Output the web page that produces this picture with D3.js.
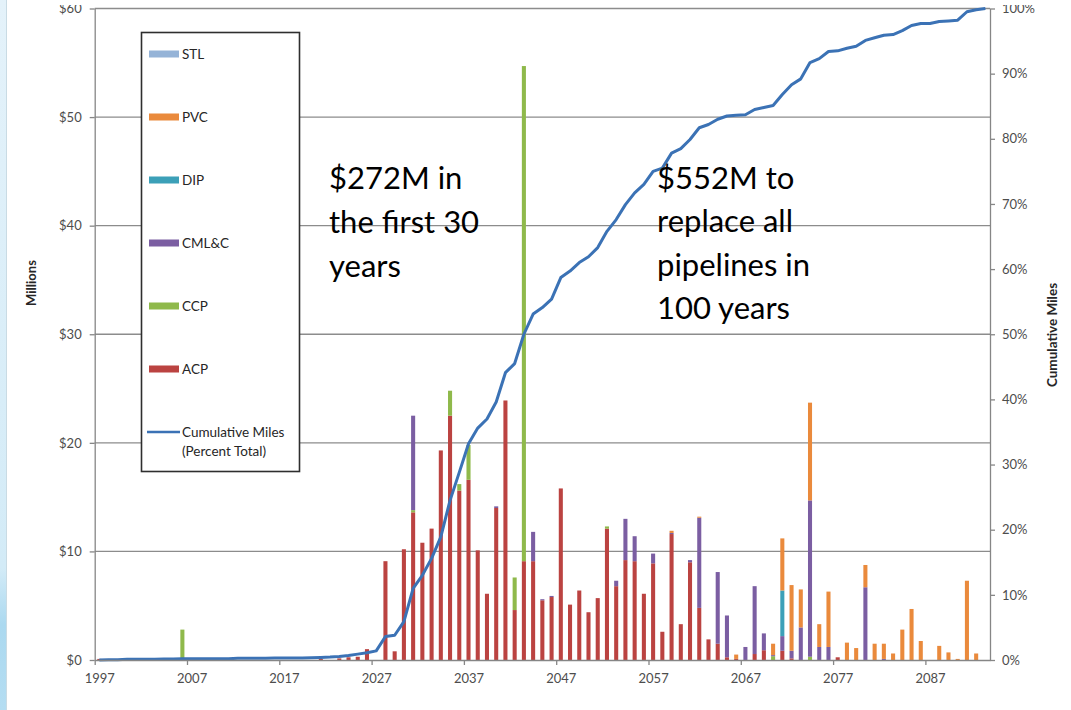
<!DOCTYPE html>
<html>
<head>
<meta charset="utf-8">
<script src="https://cdn.jsdelivr.net/npm/d3@7"></script>
<style>
  body { margin: 0; background: #fff; }
  text { font-family: Lato, "Open Sans", sans-serif; }
</style>
</head>
<body>
<svg id="chart"></svg>
<script>
// categories: one per year, 1997 .. 2093
let years = d3.range(1997, 2094);

// $ millions per year, one row per decade
let acp = [
  0.1, 0, 0, 0, 0, 0, 0, 0, 0, 0,
  0, 0, 0, 0, 0, 0, 0, 0, 0, 0,
  0, 0, 0, 0, 0.1, 0, 0.15, 0.25, 0.3, 1.0,
  0, 9.1, 0.8, 10.2, 13.6, 10.8, 12.1, 19.3, 22.5, 15.6,
  16.6, 10.1, 6.1, 14.0, 23.9, 4.6, 9.1, 9.1, 5.5, 5.8,
  15.8, 5.1, 6.4, 4.4, 5.7, 12.1, 6.8, 9.2, 9.1, 6.1,
  8.9, 2.6, 11.6, 3.3, 9.0, 4.8, 1.9, 1.5, 0.25, 0.1,
  0, 0.55, 0.9, 0, 0.85, 0.15, 0, 0, 0, 0,
  0.25, 0, 0, 0, 0, 0, 0, 0, 0, 0,
  0, 0, 0, 0, 0, 0, 0
];
let ccp = [
  0, 0, 0, 0, 0, 0, 0, 0, 0, 2.8,
  0, 0, 0, 0, 0, 0, 0, 0, 0, 0,
  0, 0, 0, 0, 0, 0, 0, 0, 0, 0,
  0, 0, 0, 0, 0.2, 0, 0, 0, 2.3, 0.6,
  3.2, 0, 0, 0, 0, 3.0, 45.6, 0, 0, 0,
  0, 0, 0, 0, 0, 0.2, 0, 0, 0, 0,
  0, 0, 0, 0, 0, 0, 0, 0, 0, 0,
  0, 0, 0, 0.35, 0, 0, 0, 0.3, 0, 0,
  0, 0, 0, 0, 0, 0, 0, 0, 0, 0,
  0, 0, 0, 0, 0, 0, 0
];
let cml = [
  0, 0, 0, 0, 0, 0, 0, 0, 0, 0,
  0, 0, 0, 0, 0, 0, 0, 0, 0, 0,
  0, 0, 0, 0, 0, 0, 0, 0, 0, 0,
  0, 0, 0, 0, 8.7, 0, 0, 0, 0, 0,
  0, 0, 0, 0.15, 0, 0, 0, 2.7, 0.1, 0.1,
  0, 0, 0, 0, 0, 0, 0.5, 3.8, 2.3, 0,
  0.9, 0, 0.1, 0, 0.2, 8.3, 0, 6.6, 3.85, 0,
  1.2, 6.25, 1.55, 0.1, 1.35, 0.7, 3.0, 14.4, 1.2, 1.2,
  0, 0, 0, 6.7, 0, 0.1, 0, 0, 0, 0,
  0, 0, 0, 0, 0, 0, 0
];
let dip = [
  0, 0, 0, 0, 0, 0, 0, 0, 0, 0,
  0, 0, 0, 0, 0, 0, 0, 0, 0, 0,
  0, 0, 0, 0, 0, 0, 0, 0, 0, 0,
  0, 0, 0, 0, 0, 0, 0, 0, 0, 0,
  0, 0, 0, 0, 0, 0, 0, 0, 0, 0,
  0, 0, 0, 0, 0, 0, 0, 0, 0, 0,
  0, 0, 0, 0, 0, 0, 0, 0, 0, 0,
  0, 0, 0, 0, 4.2, 0, 0, 0, 0, 0,
  0, 0, 0, 0, 0, 0, 0, 0, 0, 0,
  0, 0, 0, 0, 0, 0, 0
];
let pvc = [
  0, 0, 0, 0, 0, 0, 0, 0, 0, 0,
  0, 0, 0, 0, 0, 0, 0, 0, 0, 0,
  0, 0, 0, 0, 0, 0, 0, 0, 0, 0,
  0, 0, 0, 0, 0, 0, 0, 0, 0, 0,
  0, 0, 0, 0, 0, 0, 0, 0, 0, 0,
  0, 0, 0, 0, 0, 0, 0, 0, 0, 0,
  0, 0, 0.2, 0, 0, 0.1, 0, 0, 0, 0.4,
  0, 0, 0, 1.05, 4.8, 6.05, 3.5, 9.0, 2.1, 5.1,
  0, 1.6, 1.1, 2.05, 1.5, 1.4, 0.6, 2.8, 4.7, 1.75,
  0, 1.3, 0.7, 0.1, 7.3, 0.6, 0
];
let stl = [
  0, 0, 0, 0, 0, 0, 0, 0, 0, 0,
  0, 0, 0, 0, 0, 0, 0, 0, 0, 0,
  0, 0, 0, 0, 0, 0, 0, 0, 0, 0,
  0, 0, 0, 0, 0, 0, 0, 0, 0, 0,
  0, 0, 0, 0, 0, 0, 0, 0, 0, 0,
  0, 0, 0, 0, 0, 0, 0, 0, 0, 0,
  0, 0, 0, 0, 0, 0, 0, 0, 0, 0,
  0, 0, 0, 0, 0, 0, 0, 0, 0, 0,
  0, 0, 0, 0, 0, 0, 0, 0, 0, 0,
  0, 0, 0, 0, 0, 0, 0
];
// cumulative miles, percent of total
let cumPct = [
  0, 0.05, 0.05, 0.1, 0.1, 0.1, 0.1, 0.15, 0.15, 0.2,
  0.2, 0.2, 0.2, 0.2, 0.2, 0.25, 0.25, 0.25, 0.25, 0.3,
  0.3, 0.3, 0.3, 0.35, 0.4, 0.45, 0.55, 0.7, 0.9, 1.1,
  1.4, 3.6, 3.8, 5.9, 11.0, 13.0, 15.6, 18.9, 24.5, 28.8,
  33.2, 35.6, 37.0, 39.6, 44.1, 45.5, 50.0, 53.1, 54.1, 55.4,
  58.7, 59.7, 61.0, 61.9, 63.3, 65.8, 67.6, 69.9, 71.7, 73.0,
  75.0, 75.5, 77.8, 78.5, 79.9, 81.7, 82.2, 83.0, 83.5, 83.6,
  83.7, 84.5, 84.8, 85.1, 86.8, 88.3, 89.2, 91.7, 92.3, 93.4,
  93.5, 93.9, 94.2, 95.1, 95.5, 95.9, 96.0, 96.6, 97.4, 97.7,
  97.7, 98.0, 98.1, 98.2, 99.5, 99.8, 100
];

let seriesKeys = ["ACP", "CCP", "CML&C", "DIP", "PVC", "STL"];
let seriesColors = ["#bb4341", "#8fb94b", "#7b5ea2", "#3ca0b8", "#ea8a3c", "#95b3d7"];
let seriesValues = [acp, ccp, cml, dip, pvc, stl];
let xTickYears = [1997, 2007, 2017, 2027, 2037, 2047, 2057, 2067, 2077, 2087];
let annoLeft = ["$272M in", "the first 30", "years"];
let annoRight = ["$552M to", "replace all", "pipelines in", "100 years"];

let width = 1071;
let height = 710;
let plotL = 94.7, plotR = 990, plotT = 8.5, plotB = 660;

let svg = d3.select("#chart")
            .attr("width", width)
            .attr("height", height);

// slide edge on the left
let grad = svg.append("defs").append("linearGradient")
              .attr("id", "edge").attr("x1", 0).attr("y1", 0).attr("x2", 0).attr("y2", 1);
grad.append("stop").attr("offset", "0%").attr("stop-color", "#e4f2fa");
grad.append("stop").attr("offset", "80%").attr("stop-color", "#d3ebf7");
grad.append("stop").attr("offset", "88%").attr("stop-color", "#abd9f0");
grad.append("stop").attr("offset", "100%").attr("stop-color", "#b4ddf2");
svg.append("rect").attr("x", 0).attr("y", 0).attr("width", 6).attr("height", height)
   .style("fill", "url(#edge)");
svg.append("line").attr("x1", 6.5).attr("x2", 6.5).attr("y1", 0).attr("y2", height)
   .style("stroke", "#c9dbe4").style("stroke-width", 1);

// table for the stack
let table = years.map(function(yr, i) {
  let row = { year: yr };
  seriesKeys.forEach(function(k, j) { row[k] = seriesValues[j][i]; });
  return row;
});

let x = d3.scaleBand()
          .domain(years)
          .range([plotL, plotR])
          .paddingInner(0.56)
          .paddingOuter(0.28);
let xEdge = d3.scaleLinear()
              .domain([1997, 2094])
              .range([plotL, plotR]);
let y = d3.scaleLinear().domain([0, 60]).range([plotB, plotT]);
let y2 = d3.scaleLinear().domain([0, 100]).range([plotB, plotT]);

// gridlines
svg.append("g")
   .selectAll("line")
   .data(d3.range(10, 61, 10))
   .enter()
   .append("line")
   .attr("x1", plotL).attr("x2", plotR)
   .attr("y1", d => y(d)).attr("y2", d => y(d))
   .style("stroke", "#8c8c8c")
   .style("stroke-width", 1.3);

// stacked bars
let stacked = d3.stack().keys(seriesKeys)(table);
svg.append("g")
   .selectAll("g")
   .data(stacked)
   .enter()
   .append("g")
   .style("fill", (d, i) => seriesColors[i])
   .selectAll("rect")
   .data(d => d.filter(p => p[1] - p[0] > 0))
   .enter()
   .append("rect")
   .attr("x", d => x(d.data.year))
   .attr("width", x.bandwidth())
   .attr("y", d => y(d[1]))
   .attr("height", d => y(d[0]) - y(d[1]));

// cumulative line
let line = d3.line()
             .x((d, i) => x(years[i]) + x.bandwidth() / 2)
             .y(d => y2(d));
svg.append("path")
   .datum(cumPct)
   .attr("d", line)
   .style("fill", "none")
   .style("stroke", "#3b72b5")
   .style("stroke-width", 3)
   .style("stroke-linejoin", "round");

// axes
function styleAxis(g) {
  g.select(".domain").style("stroke", "#868686").style("stroke-width", 1.3);
  g.selectAll(".tick line").style("stroke", "#868686").style("stroke-width", 1.3);
  g.selectAll(".tick text")
   .style("fill", "#4d4d4d")
   .style("font-size", "13px")
   .style("font-family", "Lato, sans-serif");
}

svg.append("g")
   .attr("transform", "translate(0," + plotB + ")")
   .call(d3.axisBottom(xEdge)
           .tickValues(xTickYears)
           .tickFormat(d3.format("d"))
           .tickSize(5)
           .tickPadding(9)
           .tickSizeOuter(0))
   .call(styleAxis)
   .call(g => g.selectAll(".tick text").attr("x", x.step() / 2));

svg.append("g")
   .attr("transform", "translate(" + plotL + ",0)")
   .call(d3.axisLeft(y)
           .tickValues(d3.range(0, 61, 10))
           .tickFormat(d => "$" + d)
           .tickSize(5)
           .tickPadding(8)
           .tickSizeOuter(0))
   .call(styleAxis);

svg.append("g")
   .attr("transform", "translate(" + plotR + ",0)")
   .call(d3.axisRight(y2)
           .tickValues(d3.range(0, 101, 10))
           .tickFormat(d => d + "%")
           .tickSize(5)
           .tickPadding(7)
           .tickSizeOuter(0))
   .call(styleAxis);

// axis titles
svg.append("text")
   .attr("transform", "translate(36,283) rotate(-90)")
   .attr("text-anchor", "middle")
   .style("font-size", "13px")
   .style("font-weight", "bold")
   .style("fill", "#262626")
   .text("Millions");
svg.append("text")
   .attr("transform", "translate(1057,335) rotate(-90)")
   .attr("text-anchor", "middle")
   .style("font-size", "13.5px")
   .style("font-weight", "bold")
   .style("fill", "#262626")
   .text("Cumulative Miles");

// legend
let legend = svg.append("g");
legend.append("rect")
      .attr("x", 141.5).attr("y", 32.5)
      .attr("width", 158).attr("height", 439)
      .style("fill", "#fff")
      .style("stroke", "#2e2e2e")
      .style("stroke-width", 1.6);

let legendKeys = seriesKeys.slice().reverse();
let legendColors = seriesColors.slice().reverse();
let legendY = d3.scalePoint().domain(legendKeys.concat(["line"])).range([54, 432]);

let items = legend.selectAll("g.item")
                  .data(legendKeys)
                  .enter()
                  .append("g")
                  .attr("class", "item")
                  .attr("transform", d => "translate(0," + legendY(d) + ")");
items.append("rect")
     .attr("x", 149).attr("y", -3.5)
     .attr("width", 30).attr("height", 7)
     .style("fill", (d, i) => legendColors[i]);
items.append("text")
     .attr("x", 182).attr("y", 0)
     .attr("dy", "0.35em")
     .style("font-size", "13.5px")
     .style("fill", "#262626")
     .text(d => d);

let lineItem = legend.append("g").attr("transform", "translate(0," + legendY("line") + ")");
lineItem.append("line")
        .attr("x1", 147).attr("x2", 180)
        .style("stroke", "#3b72b5").style("stroke-width", 2.6);
lineItem.append("text")
        .attr("x", 182).attr("y", 0).attr("dy", "0.35em")
        .style("font-size", "13.5px").style("fill", "#262626")
        .text("Cumulative Miles");
lineItem.append("text")
        .attr("x", 182).attr("y", 19.5).attr("dy", "0.35em")
        .style("font-size", "13.5px").style("fill", "#262626")
        .text("(Percent Total)");

// annotations
svg.append("g")
   .selectAll("text")
   .data(annoLeft)
   .enter()
   .append("text")
   .attr("x", 329)
   .attr("y", (d, i) => 189 + i * 43.8)
   .style("font-size", "31px")
   .style("fill", "#000")
   .text(d => d);
svg.append("g")
   .selectAll("text")
   .data(annoRight)
   .enter()
   .append("text")
   .attr("x", 657)
   .attr("y", (d, i) => 189 + i * 43.3)
   .style("font-size", "31px")
   .style("fill", "#000")
   .text(d => d);

// the picture is cut a few pixels above the top gridline
svg.append("rect").attr("x", 7).attr("y", 0).attr("width", width).attr("height", 5)
   .style("fill", "#fff");
</script>
</body>
</html>
